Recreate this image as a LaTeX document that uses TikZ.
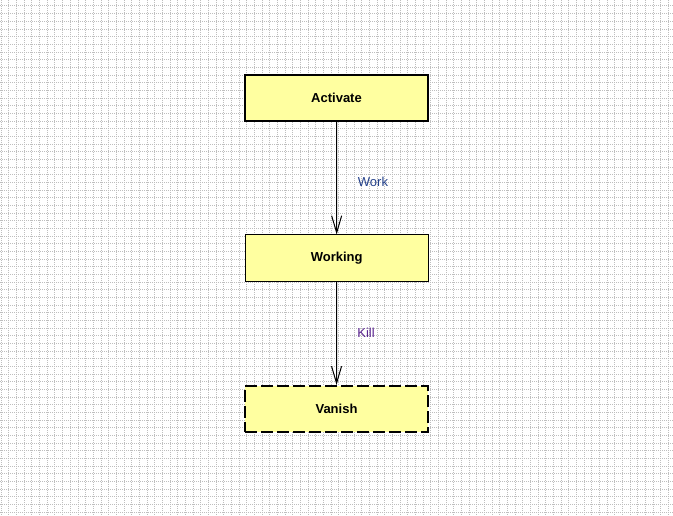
\documentclass[tikz,border=0pt]{standalone}
\usepackage{fontspec}
\setmainfont{Liberation Sans}
\usetikzlibrary{arrows.meta,fadings}
\definecolor{boxfill}{HTML}{FFFFA0}
\definecolor{gridcol}{HTML}{BEBEBE}
\definecolor{workcol}{HTML}{23408A}
\definecolor{killcol}{HTML}{5B2590}

\begin{tikzfadingfrompicture}[name=gridfade,x=0.75pt,y=0.75pt]
  \fill[transparent!100] (-336.5,-258) rectangle (336.5,258);
  \fill[transparent!0] (-291.5,-218) rectangle (291.5,218);
  \shade[left color=transparent!100,right color=transparent!0] (-336.5,-218) rectangle (-291.5,218);
  \shade[left color=transparent!0,right color=transparent!100] (291.5,-218) rectangle (336.5,218);
  \shade[top color=transparent!100,bottom color=transparent!0] (-291.5,218) rectangle (291.5,258);
  \shade[top color=transparent!0,bottom color=transparent!100] (-291.5,-258) rectangle (291.5,-218);
\end{tikzfadingfrompicture}

\tikzset{
  gridline/.style={draw=gridcol, line width=0.75pt, dash pattern=on 0.75pt off 0.75pt},
  statebox/.style={draw=black, fill=boxfill, minimum width=137.25pt, minimum height=34.5pt,
    inner sep=0pt, font=\fontsize{9.75}{12}\selectfont\bfseries},
  thickbox/.style={statebox, line width=1.5pt},
  thinbox/.style={statebox, line width=0.75pt},
  dashbox/.style={statebox, line width=1.5pt, dash pattern=on 9pt off 3pt},
  trans/.style={draw=black, line width=0.75pt, -{Straight Barb[length=12.75pt,width=7.5pt]}},
  tlabel/.style={font=\fontsize{9.75}{12}\selectfont, inner sep=0pt}
}

\begin{document}
\begin{tikzpicture}[x=0.75pt,y=-0.75pt]
  \useasboundingbox (0,0) rectangle (673,516);
  \fill[white] (0,0) rectangle (673,516);
  \begin{scope}[scope fading=gridfade, fit fading=false, fading transform={shift={(336.5,258)}}]
    \foreach \i in {0,...,87} \draw[gridline] ({1.3+\i*7.67},0) -- ({1.3+\i*7.67},516);
    \foreach \j in {0,...,67} \draw[gridline] (0,{6+\j*7.67}) -- (673,{6+\j*7.67});
  \end{scope}

  \node[thickbox] (act) at (336.5,98) {Activate};
  \node[thinbox]  (wrk) at (336.7,258) {Working};
  \node[dashbox]  (van) at (336.5,409) {Vanish};

  \draw[trans] (act) -- (wrk);
  \draw[trans] (wrk) -- (van);

  \node[tlabel, text=workcol] (lwork) at (373,182) {Work};
  \node[tlabel, text=killcol] (lkill) at (366,333) {Kill};
\end{tikzpicture}
\end{document}
